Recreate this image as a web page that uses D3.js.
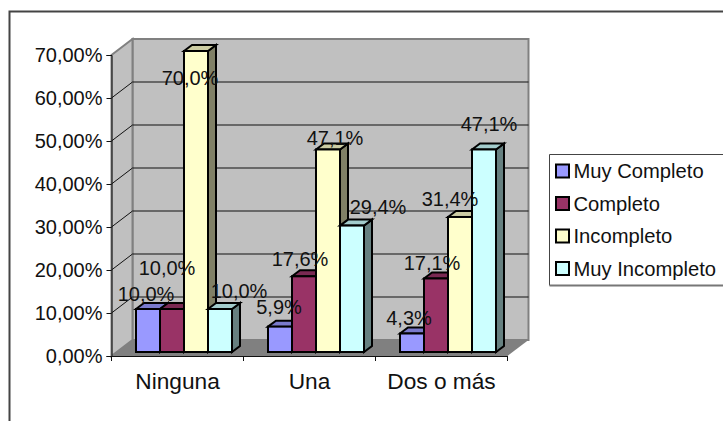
<!DOCTYPE html>
<html><head><meta charset="utf-8">
<script src="https://cdn.jsdelivr.net/npm/d3@7"></script>
<style>html,body{margin:0;padding:0;background:#fff}svg{display:block}
text{font-family:"Liberation Sans",Arial,sans-serif;fill:#111}</style></head>
<body><svg id="c" width="723" height="421"></svg>
<script>
const categories = ["Ninguna", "Una", "Dos o más"];
const seriesNames = ["Muy Completo", "Completo", "Incompleto", "Muy Incompleto"];
const muyCompleto = [10.0, 5.9, 4.3];
const completo = [10.0, 17.6, 17.1];
const incompleto = [70.0, 47.1, 31.4];
const muyIncompleto = [10.0, 29.4, 47.1];
const seriesValues = [muyCompleto, completo, incompleto, muyIncompleto];
const tickValues = [0, 10, 20, 30, 40, 50, 60, 70];
const colors = ["#9999ff", "#993366", "#ffffcc", "#ccffff"];
// manual label placement relative to each bar's top centre [series][category]
const labelNudge = [
  [[-2,-15],[-1,-20],[-3,-15.5]],
  [[-5,-41],[-4,-17],[-4,-15.5]],
  [[-6,27],[7,-11.5],[-10,-18]],
  [[19,-18],[26,-19],[5,-25.5]]
];

const svg = d3.select("#c");
const W = {x0:111.5, x1:507.5, y0:356, y1:55, dx:21, dy:-16};
const y = d3.scaleLinear().domain([0,70]).range([W.y0,W.y1]);
const xCat = d3.scaleBand().domain(categories).range([W.x0,W.x1]);
const barW = 24, barStart = 24.5, bd = 8, bdy = 6, barLift = -4;

// outer frame
svg.append("path").attr("d","M9.5,421V11.5H723").attr("fill","none").attr("stroke","#444").attr("stroke-width",2);

// walls and floor
const line = d3.line();
const g = svg.append("g");
g.append("path").attr("d",line([[W.x0+W.dx,W.y1+W.dy],[W.x1+W.dx,W.y1+W.dy],[W.x1+W.dx,W.y0+W.dy],[W.x0+W.dx,W.y0+W.dy]])+"Z")
 .attr("fill","#c0c0c0").attr("stroke","#808080").attr("stroke-width",2);
g.append("path").attr("d",line([[W.x0,W.y1],[W.x0+W.dx,W.y1+W.dy],[W.x0+W.dx,W.y0+W.dy],[W.x0,W.y0]])+"Z")
 .attr("fill","#c0c0c0").attr("stroke","#808080").attr("stroke-width",2);
g.append("path").attr("d",line([[W.x0,W.y0],[W.x0+W.dx,W.y0+W.dy],[W.x1+W.dx,W.y0+W.dy],[W.x1,W.y0]])+"Z")
 .attr("fill","#808080");

// gridlines
tickValues.slice(1,-1).forEach(t=>{
  g.append("path").attr("d",line([[W.x0,y(t)],[W.x0+W.dx,y(t)+W.dy],[W.x1+W.dx,y(t)+W.dy]]))
   .attr("fill","none").attr("stroke","#111").attr("stroke-width",1);
});

// axes
const fmt = d3.formatLocale({decimal:",",thousands:".",grouping:[3],currency:["","%"]});
const tickFmt = fmt.format(".2f"), lblFmt = fmt.format(".1f");
const yAxis = svg.append("g").attr("transform",`translate(${W.x0},0)`)
  .call(d3.axisLeft(y).tickValues(tickValues).tickSizeOuter(0).tickSize(5).tickPadding(4).tickFormat(d=>tickFmt(d)+"%"));
yAxis.selectAll("path,line").attr("stroke","#111");
yAxis.selectAll("text").attr("font-size",20).attr("font-family",null);

const xAxis = svg.append("g").attr("transform",`translate(0,${W.y0})`)
  .call(d3.axisBottom(xCat).tickSize(0).tickPadding(17));
xAxis.select("path").attr("stroke","#111");
xAxis.selectAll("text").attr("font-size",22.7).attr("font-family",null);
categories.map(c=>xCat(c)).concat([W.x1]).forEach(x=>{
  xAxis.append("line").attr("x1",x).attr("x2",x).attr("y1",0).attr("y2",5).attr("stroke","#111");
});

// bars
const shade = (c,k)=>{const r=d3.rgb(c);return d3.rgb(r.r*k,r.g*k,r.b*k).formatHex();};
const bars = svg.append("g").attr("stroke","#000").attr("stroke-width",2).attr("stroke-linejoin","miter");
const by = v => y(v)+barLift;
const bx = (ci,si) => xCat(categories[ci])+barStart+si*barW;
categories.forEach((c,ci)=>{
  seriesValues.forEach((vals,si)=>{
    const v=vals[ci], x=bx(ci,si), top=by(v), bot=by(0);
    const b=bars.append("g");
    b.append("path").attr("d",line([[x+barW,top],[x+barW+bd,top-bdy],[x+barW+bd,bot-bdy],[x+barW,bot]])+"Z").attr("fill",shade(colors[si],0.5));
    b.append("path").attr("d",line([[x,top],[x+bd,top-bdy],[x+barW+bd,top-bdy],[x+barW,top]])+"Z").attr("fill",shade(colors[si],0.8));
    b.append("rect").attr("x",x).attr("y",top).attr("width",barW).attr("height",bot-top).attr("fill",colors[si]);
  });
});

// value labels
categories.forEach((c,ci)=>{
  seriesValues.forEach((vals,si)=>{
    const v=vals[ci], n=labelNudge[si][ci];
    svg.append("text").attr("x",bx(ci,si)+barW/2+n[0]).attr("y",by(v)+n[1]+7)
      .attr("text-anchor","middle").attr("font-size",20).text(lblFmt(v)+"%");
  });
});

// legend: open on the right, heavier grey bottom edge
const leg = svg.append("g").attr("transform","translate(549.5,154.5)");
leg.append("rect").attr("width",174).attr("height",131).attr("fill","#fff");
leg.append("path").attr("d","M174,0H0V131").attr("fill","none").attr("stroke","#444");
leg.append("path").attr("d","M0,131H174").attr("fill","none").attr("stroke","#777").attr("stroke-width",2);
const ly = d3.scalePoint().domain(seriesNames).range([16.5,114]);
seriesNames.forEach((n,i)=>{
  leg.append("rect").attr("x",6.5).attr("y",ly(n)-6.5).attr("width",13).attr("height",13)
    .attr("fill",colors[i]).attr("stroke","#000").attr("stroke-width",2);
  leg.append("text").attr("x",24).attr("y",ly(n)+7).attr("font-size",20.2).text(n);
});
</script></body></html>
